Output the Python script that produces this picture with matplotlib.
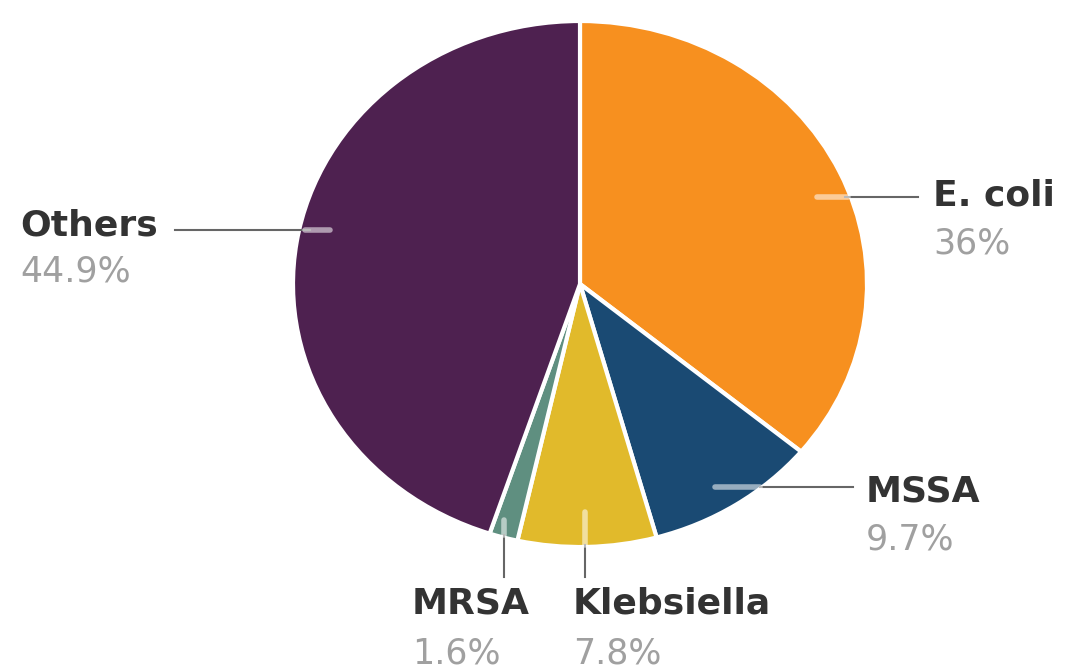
import numpy as np
import matplotlib.pyplot as plt

# data
labels = ['E. coli', 'MSSA', 'Klebsiella', 'MRSA', 'Others']
shares = [36.0, 9.7, 7.8, 1.6, 44.9]
pct_text = ['36%', '9.7%', '7.8%', '1.6%', '44.9%']
colors = ['#F7901F', '#1A4A73', '#E1BA2B', '#5F8F80', '#4E2150']

W, H = 1067, 669
fig = plt.figure(figsize=(W / 100, H / 100), dpi=100)

# pie is slightly stretched horizontally in the reference
cx, cy, rx, ry = 580, 284, 287, 263
ax = fig.add_axes([(cx - rx) / W, 1 - (cy + ry) / H, 2 * rx / W, 2 * ry / H])
ax.pie(shares, colors=colors, startangle=90, counterclock=False,
       wedgeprops=dict(edgecolor='white', linewidth=3))
ax.set_aspect('auto')
ax.set_xlim(-1, 1)
ax.set_ylim(-1, 1)
ax.axis('off')

# overlay in pixel coords for labels and leader lines
ov = fig.add_axes([0, 0, 1, 1])
ov.set_xlim(0, W)
ov.set_ylim(H, 0)
ov.axis('off')

line_c = '#666666'
light = dict(color='white', alpha=0.55, lw=4, solid_capstyle='round')
name_kw = dict(fontsize=26, fontweight='bold', color='#333333', family='DejaVu Sans')
pct_kw = dict(fontsize=25, color='#a0a0a0', family='DejaVu Sans')

# Others
ov.plot([175, 310], [230, 230], color=line_c, lw=1.5)
ov.plot([305, 330], [230, 230], **light)
ov.text(20, 226, labels[4], ha='left', va='center', **name_kw)
ov.text(20, 272, pct_text[4], ha='left', va='center', **pct_kw)

# E. coli
ov.plot([845, 918], [197, 197], color=line_c, lw=1.5)
ov.plot([817, 848], [197, 197], **light)
ov.text(933, 196, labels[0], ha='left', va='center', **name_kw)
ov.text(933, 244, pct_text[0], ha='left', va='center', **pct_kw)

# MSSA
ov.plot([760, 853], [487, 487], color=line_c, lw=1.5)
ov.plot([715, 760], [487, 487], **light)
ov.text(866, 491, labels[1], ha='left', va='center', **name_kw)
ov.text(866, 539, pct_text[1], ha='left', va='center', **pct_kw)

# MRSA
ov.plot([504, 504], [535, 577], color=line_c, lw=1.5)
ov.plot([504, 504], [520, 535], **light)
ov.text(412, 603, labels[3], ha='left', va='center', **name_kw)
ov.text(412, 653, pct_text[3], ha='left', va='center', **pct_kw)

# Klebsiella
ov.plot([585, 585], [545, 577], color=line_c, lw=1.5)
ov.plot([585, 585], [512, 545], **light)
ov.text(573, 603, labels[2], ha='left', va='center', **name_kw)
ov.text(573, 653, pct_text[2], ha='left', va='center', **pct_kw)

fig.savefig('out.png', dpi=100, facecolor='white')
